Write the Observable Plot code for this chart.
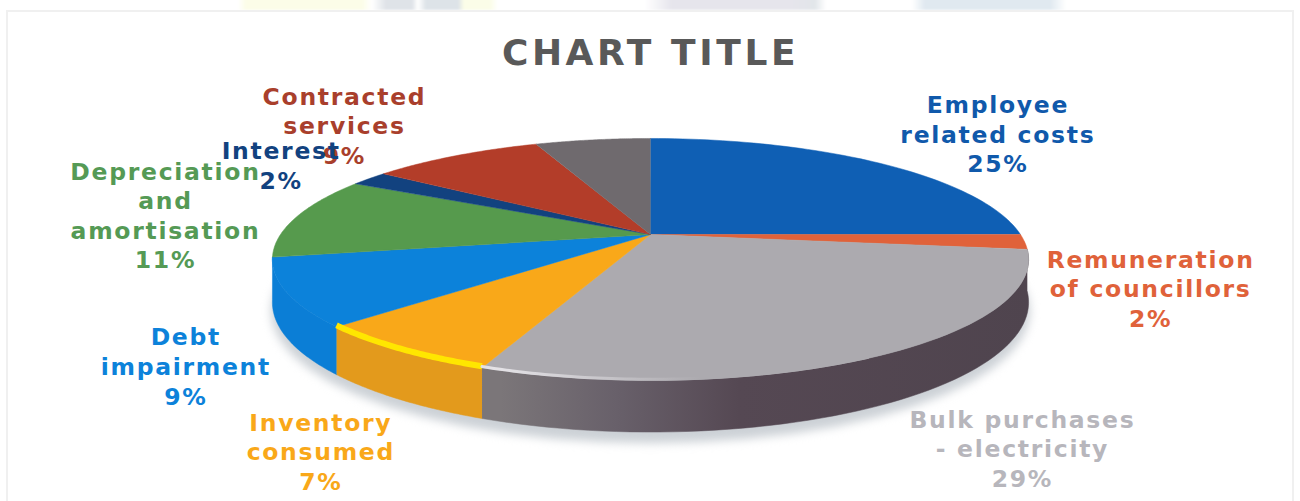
<!DOCTYPE html>
<html>
<head>
<meta charset="utf-8">
<script src="https://cdn.jsdelivr.net/npm/d3@7"></script>
<script src="https://cdn.jsdelivr.net/npm/@observablehq/plot@0.6"></script>
<style>
  html, body { margin: 0; padding: 0; background: #fff; }
  #page { position: relative; width: 1300px; height: 501px; overflow: hidden; }
  /* faint band of artwork peeking out above the white card */
  #band { position: absolute; left: 0; right: 0; top: -2px; height: 12px; filter: blur(1px);
    background: linear-gradient(90deg,
      #fff 238px, #fcfde8 246px, #fcfde8 362px, #fff 372px, #dfe3e8 386px, #dfe3e8 412px, #fff 418px,
      #dde3e8 426px, #dde3e8 458px, #fbfde8 464px, #fbfde8 490px, #fff 498px,
      #fff 645px, #e6e5ec 672px, #e6e5ec 790px, #e2e6ea 815px, #fff 826px,
      #fff 912px, #e0e9f0 925px, #e0e9f0 1050px, #fff 1066px); }
  #card { position: absolute; left: 6px; top: 10px; right: 6px; bottom: -4px;
    border: 2px solid #f0f0f0; box-sizing: border-box; }
  #chart { position: absolute; left: 0; top: 0; }
  #chart svg { display: block; }
</style>
</head>
<body>
<div id="page"><div id="band"></div><div id="card"></div><div id="chart"></div></div>
<script>
const categories = ["Employee related costs", "Remuneration of councillors", "Bulk purchases - electricity",
  "Inventory consumed", "Debt impairment", "Depreciation and amortisation", "Interest", "Contracted services", "Other"];
const shares = [25, 2, 29, 7, 9, 11, 2, 9, 6];
const labelLines = [
  ["Employee", "related costs"],
  ["Remuneration", "of councillors"],
  ["Bulk purchases", "- electricity"],
  ["Inventory", "consumed"],
  ["Debt", "impairment"],
  ["Depreciation", "and", "amortisation"],
  ["Interest"],
  ["Contracted", "services"],
  null
];
const faceColors = ["#0f5fb4", "#e0623a", "#acaaaf", "#f9a819", "#0c82da", "#569a4d", "#12427f", "#b33d29", "#6f6a6e"];
const textColors = ["#1059ab", "#e0623a", "#b7b6bc", "#f9a819", "#0c82da", "#559a55", "#12427f", "#a93f2c", null];
const wallColors = ["#0f5fb4", "#e0623a", "url(#bulkWall)", "#e39a1c", "#0b7ed6", "#569a4d", "#12427f", "#b33d29", "#6f6a6e"];

// Pie units: radius 1, apex at the origin, with a perspective tilt toward the viewer.
const tilt = 0.206, squash = 0.313, depth = 0.111, pxPerUnit = 370;

function project(share, radius = 1, drop = 0) {
  const a = share / 100 * 2 * Math.PI;
  const u = radius * Math.sin(a), v = -radius * Math.cos(a), w = 1 - tilt * v;
  return {x: u / w, y: (squash * v + drop) / w};
}
const steps = (a, b) => d3.range(0, 61).map((i) => a + (b - a) * i / 60);

let running = 0;
const slices = shares.map((share, i) => {
  const s = {i, start: running, end: running + share, mid: running + share / 2, share};
  running += share;
  return s;
});

const rim = (s, drop = 0) => steps(s.start, s.end).map((p) => project(p, 1, drop));
const face = (s) => [{x: 0, y: 0}, ...rim(s)];
const wall = (s) => [...rim(s), ...rim(s, depth).reverse()];
const shadow = steps(0, 100).map((p) => project(p, 1.004, depth + 0.022));

// Hand placement of the callouts relative to each slice's rim, in pixels.
const labelOffset = [[119, -30], [126, 46], [143, 92], [-79, 101], [-101, 73], [-131, -2.5], [-88, -14], [-111, -31]];
// Contracted services first so that the Interest label lands on top of it.
const labelOrder = [0, 1, 2, 3, 4, 5, 7, 6];

const defs = () => {
  const svg = d3.create("svg:defs");
  const gradient = (id, x1, x2, stops) => {
    const g = svg.append("linearGradient").attr("id", id).attr("gradientUnits", "userSpaceOnUse")
      .attr("x1", x1).attr("x2", x2).attr("y1", 0).attr("y2", 0);
    stops.forEach(([o, c]) => g.append("stop").attr("offset", o).attr("stop-color", c));
  };
  gradient("bulkWall", 500, 1030, [[0, "#7b7679"], [0.22, "#68606a"], [0.45, "#554853"], [1, "#4f444e"]]);
  gradient("bulkEdge", 500, 700, [[0, "#e4e2e6"], [1, "#acaaaf"]]);
  return svg.node();
};

const marks = [
  defs,
  Plot.line(shadow, {x: "x", y: "y", fill: "#ccd1d6", imageFilter: "blur(5px)"}),
  ...slices.filter((s) => s.start >= 27 && s.start < 72).map((s) => Plot.line(wall(s), {x: "x", y: "y", fill: wallColors[s.i], stroke: wallColors[s.i], strokeWidth: 0.5})),
  ...slices.map((s) => Plot.line(face(s), {x: "x", y: "y", fill: faceColors[s.i], stroke: faceColors[s.i], strokeWidth: 0.5})),
  Plot.line(rim(slices[3]).map((p) => ({x: p.x, y: p.y - 0.004})), {x: "x", y: "y", stroke: "#ffe600", strokeWidth: 6, strokeLinecap: "butt"}),
  Plot.line(steps(56, 42).map((p) => project(p)).map((p) => ({x: p.x, y: p.y - 0.003})), {x: "x", y: "y", stroke: "url(#bulkEdge)", strokeWidth: 3}),
  Plot.text(["CHART TITLE"], {
    frameAnchor: "top", dy: 53, lineAnchor: "middle", fontFamily: "DejaVu Sans", fontWeight: 700, fontSize: 36, fill: "#595959",
    render(index, scales, values, dims, context, next) {
      const g = next(index, scales, values, dims, context);
      g.style.letterSpacing = "3.6px";
      return g;
    }
  }),
  ...labelOrder.map((i) => {
    const s = slices[i], anchor = project(s.mid), [dx, dy] = labelOffset[i];
    return Plot.text([[...labelLines[i], `${s.share}%`].join("\n")], {
      x: [anchor.x], y: [anchor.y], dx, dy, text: (d) => d, lineAnchor: "middle", lineHeight: 1.26,
      fontFamily: "DejaVu Sans", fontWeight: 700, fontSize: 23.5, fill: textColors[i]
    });
  })
];

const chart = Plot.plot({
  width: 1300, height: 501, margin: 0,
  x: {domain: [-650 / pxPerUnit, 650 / pxPerUnit], range: [0, 1300], axis: null},
  y: {domain: [-234 / pxPerUnit, 267 / pxPerUnit], range: [0, 501], axis: null},
  style: {background: "transparent", letterSpacing: "1.7px"},
  marks
});
document.getElementById("chart").append(chart);
</script>
</body>
</html>
